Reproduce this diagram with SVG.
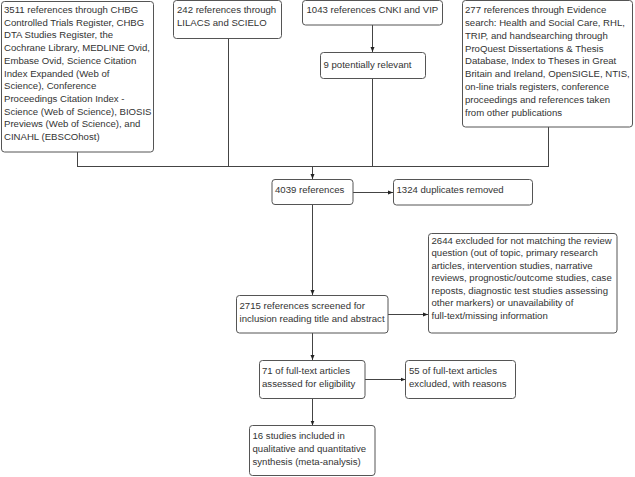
<svg xmlns="http://www.w3.org/2000/svg" width="635" height="477" viewBox="0 0 635 477">
<defs>
<marker id="arr" viewBox="0 0 10 10" refX="10" refY="5" markerWidth="5" markerHeight="5" orient="auto" markerUnits="userSpaceOnUse">
<path d="M0,1 L10,5 L0,9 z" fill="#222"/>
</marker>
<style>
.box{fill:#fff;stroke:#555;stroke-width:1}
.t{font-family:"Liberation Sans",Arial,sans-serif;font-size:9.6px;fill:#333}
.c{fill:none;stroke:#444;stroke-width:1}
</style>
</defs>
<rect width="635" height="477" fill="#fff"/>
<g id="connectors">
<line class="c" x1="77.5" y1="152" x2="77.5" y2="166"/>
<line class="c" x1="228.5" y1="38" x2="228.5" y2="166"/>
<line class="c" x1="372.5" y1="25" x2="372.5" y2="52" marker-end="url(#arr)"/>
<line class="c" x1="372.5" y1="78" x2="372.5" y2="166"/>
<line class="c" x1="548.5" y1="127" x2="548.5" y2="166"/>
<line class="c" x1="77" y1="166.5" x2="549" y2="166.5"/>
<line class="c" x1="312.5" y1="166" x2="312.5" y2="179" marker-end="url(#arr)"/>
<line class="c" x1="353" y1="192.5" x2="393" y2="192.5" marker-end="url(#arr)"/>
<line class="c" x1="312.5" y1="204" x2="312.5" y2="295" marker-end="url(#arr)"/>
<line class="c" x1="388" y1="314.5" x2="428" y2="314.5" marker-end="url(#arr)"/>
<line class="c" x1="312.5" y1="333" x2="312.5" y2="360" marker-end="url(#arr)"/>
<line class="c" x1="365" y1="379.5" x2="405.5" y2="379.5" marker-end="url(#arr)"/>
<line class="c" x1="312.5" y1="398" x2="312.5" y2="425.5" marker-end="url(#arr)"/>
</g>
<g id="n3511">
<rect class="box" x="1.5" y="1.5" width="152" height="150.5" rx="3"/>
<text class="t" x="4" y="13">3511 references through CHBG</text>
<text class="t" x="4" y="25.7">Controlled Trials Register, CHBG</text>
<text class="t" x="4" y="38.4">DTA Studies Register, the</text>
<text class="t" x="4" y="51.1">Cochrane Library, MEDLINE Ovid,</text>
<text class="t" x="4" y="63.8">Embase Ovid, Science Citation</text>
<text class="t" x="4" y="76.5">Index Expanded (Web of</text>
<text class="t" x="4" y="89.2">Science), Conference</text>
<text class="t" x="4" y="101.9">Proceedings Citation Index -</text>
<text class="t" x="4" y="114.6">Science (Web of Science), BIOSIS</text>
<text class="t" x="4" y="127.3">Previews (Web of Science), and</text>
<text class="t" x="4" y="140">CINAHL (EBSCOhost)</text>
</g>
<g id="n242">
<rect class="box" x="173.5" y="0.5" width="108" height="38" rx="3"/>
<text class="t" x="177" y="13">242 references through</text>
<text class="t" x="177" y="25.7">LILACS and SCIELO</text>
</g>
<g id="n1043">
<rect class="box" x="302.5" y="0.5" width="140" height="24.5" rx="3"/>
<text class="t" x="306.5" y="13">1043 references CNKI and VIP</text>
</g>
<g id="n9">
<rect class="box" x="320.5" y="52.5" width="105" height="26" rx="3"/>
<text class="t" x="323.5" y="68">9 potentially relevant</text>
</g>
<g id="n277">
<rect class="box" x="462.5" y="0.5" width="170" height="126.5" rx="3"/>
<text class="t" x="465" y="13">277 references through Evidence</text>
<text class="t" x="465" y="25.85">search: Health and Social Care, RHL,</text>
<text class="t" x="465" y="38.7">TRIP, and handsearching through</text>
<text class="t" x="465" y="51.55">ProQuest Dissertations &amp; Thesis</text>
<text class="t" x="465" y="64.4">Database, Index to Theses in Great</text>
<text class="t" x="465" y="77.25">Britain and Ireland, OpenSIGLE, NTIS,</text>
<text class="t" x="465" y="90.1">on-line trials registers, conference</text>
<text class="t" x="465" y="102.95">proceedings and references taken</text>
<text class="t" x="465" y="115.8">from other publications</text>
</g>
<g id="n4039">
<rect class="box" x="272" y="179.5" width="81" height="25" rx="3"/>
<text class="t" x="275" y="193">4039 references</text>
</g>
<g id="n1324">
<rect class="box" x="393.5" y="179.5" width="139" height="25.5" rx="3"/>
<text class="t" x="396.5" y="193">1324 duplicates removed</text>
</g>
<g id="n2715">
<rect class="box" x="236.5" y="295.5" width="151.5" height="37.5" rx="3"/>
<text class="t" x="239.5" y="308.5">2715 references screened for</text>
<text class="t" x="239.5" y="321.5">inclusion reading title and abstract</text>
</g>
<g id="n2644">
<rect class="box" x="428.5" y="233.5" width="188.5" height="99.5" rx="3"/>
<text class="t" x="431.5" y="243.5">2644 excluded for not matching the review</text>
<text class="t" x="431.5" y="256">question (out of topic, primary research</text>
<text class="t" x="431.5" y="268.5">articles, intervention studies, narrative</text>
<text class="t" x="431.5" y="281">reviews, prognostic/outcome studies, case</text>
<text class="t" x="431.5" y="293.5">reposts, diagnostic test studies assessing</text>
<text class="t" x="431.5" y="306">other markers) or unavailability of</text>
<text class="t" x="431.5" y="318.5">full-text/missing information</text>
</g>
<g id="n71">
<rect class="box" x="259.5" y="360.5" width="105.5" height="38" rx="3"/>
<text class="t" x="262" y="373.5">71 of full-text articles</text>
<text class="t" x="262" y="386.5">assessed for eligibility</text>
</g>
<g id="n55">
<rect class="box" x="405.5" y="360.5" width="110" height="38" rx="3"/>
<text class="t" x="409" y="373.5">55 of full-text articles</text>
<text class="t" x="409" y="386.5">excluded, with reasons</text>
</g>
<g id="n16">
<rect class="box" x="249.5" y="425.5" width="125.5" height="50" rx="3"/>
<text class="t" x="252.5" y="438.5">16 studies included in</text>
<text class="t" x="252.5" y="451.5">qualitative and quantitative</text>
<text class="t" x="252.5" y="464.5">synthesis (meta-analysis)</text>
</g>
</svg>
